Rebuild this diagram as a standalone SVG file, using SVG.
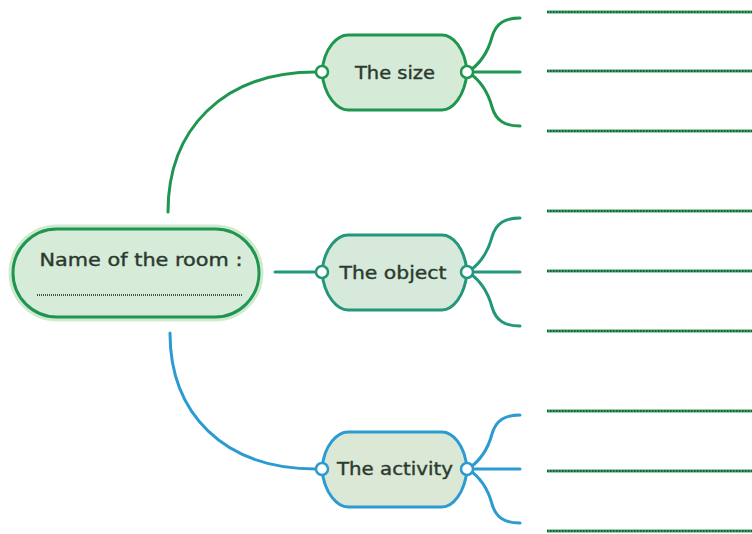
<svg xmlns="http://www.w3.org/2000/svg" width="752" height="534" viewBox="0 0 752 534">
<style>
.txt{font-family:"DejaVu Sans","Liberation Sans",sans-serif;font-size:18px;fill:#2b3a2e;stroke:#2b3a2e;stroke-width:0.4;text-anchor:middle}
.conn{fill:none;stroke-width:3;stroke-linecap:round}
.g{stroke:#1f9650}
.t{stroke:#22977c}
.b{stroke:#2b9bd1}
.blank{stroke:#3a9e62;stroke-width:3}
.blankdots{stroke:#1d5e3c;stroke-width:2;stroke-dasharray:1.5 1.5}
.pt{fill:#ffffff;stroke-width:2.5}
</style>
<defs>
<path id="pill" d="M-47,-37 L47,-37 C57,-37 70,-25 72,0 C70,25 57,38 47,38 L-47,38 C-57,38 -71,25 -73,0 C-71,-25 -57,-37 -47,-37 Z"/>
<path id="branch" d="M468,0 L520,0 M468,0 C480,-8 488,-20 492,-35 C496,-49 505,-54 520,-54 M468,0 C480,8 488,20 492,35 C496,49 505,54 520,54"/>
<g id="blanks">
<line class="blank" x1="547" y1="0" x2="752" y2="0"/>
<line class="blankdots" x1="547" y1="0" x2="752" y2="0"/>
</g>
</defs>

<g id="connectors">
<path class="conn g" d="M168,212 C168,130 222,72 316,72"/>
<path class="conn t" d="M275,272 L316,272"/>
<path class="conn b" d="M170,333 C170,412 222,469 316,469"/>
<use href="#branch" class="conn g" transform="translate(0,72)"/>
<use href="#branch" class="conn t" transform="translate(0,272)"/>
<use href="#branch" class="conn b" transform="translate(0,469)"/>
</g>

<g id="blank-lines">
<use href="#blanks" y="12"/>
<use href="#blanks" y="71"/>
<use href="#blanks" y="131"/>
<use href="#blanks" y="211"/>
<use href="#blanks" y="271"/>
<use href="#blanks" y="331"/>
<use href="#blanks" y="411"/>
<use href="#blanks" y="471"/>
<use href="#blanks" y="531"/>
</g>

<g id="node-room">
<rect x="13" y="229" width="246" height="88" rx="44" fill="none" stroke="#cfeacf" stroke-width="9"/>
<rect x="13" y="229" width="246" height="88" rx="44" fill="#d7ebd9" stroke="#1f9650" stroke-width="3"/>
<text class="txt" x="141" y="266" textLength="203" lengthAdjust="spacingAndGlyphs">Name of the room :</text>
<line x1="37" y1="295" x2="242" y2="295" stroke="#3a5a40" stroke-width="2" stroke-dasharray="1 1"/>
</g>

<g id="node-size" transform="translate(395,72)">
<use href="#pill" fill="#d6ead8" stroke="#1f9650" stroke-width="3"/>
<text class="txt" x="0" y="7" textLength="80" lengthAdjust="spacingAndGlyphs">The size</text>
<circle class="pt" cx="-73" cy="0" r="6" stroke="#1f9650"/>
<circle class="pt" cx="72" cy="0" r="6" stroke="#1f9650"/>
</g>

<g id="node-object" transform="translate(395,272)">
<use href="#pill" fill="#d6e9da" stroke="#22977c" stroke-width="3"/>
<text class="txt" x="-2" y="7" textLength="107" lengthAdjust="spacingAndGlyphs">The object</text>
<circle class="pt" cx="-73" cy="0" r="6" stroke="#22977c"/>
<circle class="pt" cx="72" cy="0" r="6" stroke="#22977c"/>
</g>

<g id="node-activity" transform="translate(395,469)">
<use href="#pill" fill="#dbe8d6" stroke="#2b9bd1" stroke-width="3"/>
<text class="txt" x="0" y="6" textLength="116" lengthAdjust="spacingAndGlyphs">The activity</text>
<circle class="pt" cx="-73" cy="0" r="6" stroke="#2b9bd1"/>
<circle class="pt" cx="72" cy="0" r="6" stroke="#2b9bd1"/>
</g>
</svg>
